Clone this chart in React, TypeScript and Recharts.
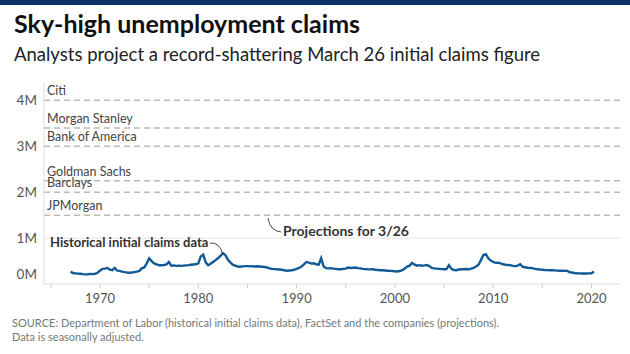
import { Line, LineChart, ReferenceLine, XAxis, YAxis } from "recharts";

// quarterly samples of weekly initial claims, thousands, starting 1967 Q1
const startYear = 1967;
const claimsK = [
  270, 240, 232, 225, 222, 215, 210, 212, 220, 215, 222, 245,
  290, 330, 335, 350, 315, 300, 350, 290, 285, 270, 258, 250,
  245, 250, 260, 270, 285, 340, 360, 450, 560, 500, 450, 430,
  410, 410, 415, 425, 480, 400, 405, 395, 400, 395, 400, 405,
  410, 420, 425, 430, 450, 600, 640, 470, 410, 440, 480, 520,
  560, 610, 670, 630, 530, 470, 420, 400, 380, 375, 385, 390,
  390, 385, 390, 380, 385, 380, 375, 370, 360, 340, 330, 325,
  320, 315, 310, 300, 290, 295, 300, 310, 330, 350, 380, 430,
  480, 465, 445, 450, 430, 420, 560, 380, 345, 340, 345, 335,
  330, 320, 322, 330, 335, 360, 350, 355, 360, 345, 340, 330,
  325, 320, 318, 320, 310, 305, 300, 298, 295, 290, 286, 282,
  275, 272, 282, 300, 335, 380, 400, 460, 420, 400, 410, 398,
  405, 415, 390, 350, 340, 335, 330, 325, 322, 325, 410, 330,
  305, 300, 315, 320, 320, 325, 320, 335, 350, 380, 420, 520,
  630, 650, 560, 510, 480, 460, 465, 450, 430, 420, 415, 410,
  395, 390, 400, 430, 375, 365, 355, 350, 345, 330, 322, 315,
  310, 305, 302, 300, 300, 296, 292, 290, 288, 285, 290, 260,
  250, 240, 235, 232, 230, 228, 230, 232, 235, 270,
];

const banks = ["Citi", "Morgan Stanley", "Bank of America", "Goldman Sachs", "Barclays", "JPMorgan"];
const projectionsM = [4, 3.4, 3, 2.25, 2, 1.5];

const yTicks = [0, 1, 2, 3, 4];
const xTicks = [1965, 1970, 1975, 1980, 1985, 1990, 1995, 2000, 2005, 2010, 2015, 2020];
const xLabels = [1970, 1980, 1990, 2000, 2010, 2020];

const data = claimsK.map((v, i) => ({ t: startYear + i / 4, v: v / 1000 }));

const FONT = "Lato, 'Noto Sans', sans-serif";

function YTick({ x, y, payload }: any) {
  const dy = payload.value === 0 ? -10 : 0;
  return (
    <text x={x + 1} y={y + dy} dy={5} textAnchor="end" fontSize={13.5} fill="#555" fontFamily={FONT}>
      {payload.value}M
    </text>
  );
}

function bankLabel(name: string) {
  return (props: any) => {
    const { viewBox } = props;
    return (
      <text x={viewBox.x + 3} y={viewBox.y - 5} fontSize={12.5} fill="#444" fontFamily={FONT}>
        {name}
      </text>
    );
  };
}

export default function App() {
  return (
    <div
      style={{
        position: "absolute",
        left: 0,
        top: 0,
        width: 630,
        height: 354,
        background: "#fff",
        overflow: "hidden",
        fontFamily: FONT,
      }}
    >
      <div style={{ position: "absolute", left: 0, top: 0, width: 630, height: 5, background: "#0b3068" }} />
      <div style={{ position: "absolute", left: 14, top: 8, fontSize: 25, fontWeight: 700, color: "#111", whiteSpace: "nowrap" }}>
        Sky-high unemployment claims
      </div>
      <div style={{ position: "absolute", left: 14, top: 43, fontSize: 18.5, color: "#222", whiteSpace: "nowrap" }}>
        Analysts project a record-shattering March 26 initial claims figure
      </div>

      <div style={{ position: "absolute", left: 0, top: 0 }}>
        <LineChart width={630} height={354} data={data} margin={{ top: 82, right: 10, bottom: 50, left: 0 }}>
          <XAxis
            dataKey="t"
            type="number"
            domain={[1964.3, 2022.9]}
            ticks={xTicks}
            tickFormatter={(v: number) => (xLabels.includes(v) ? String(v) : "")}
            height={20}
            tickSize={4}
            tickMargin={6}
            axisLine={{ stroke: "#ddd" }}
            tickLine={{ stroke: "#ccc" }}
            tick={{ fontSize: 13, fill: "#555", fontFamily: FONT }}
          />
          <YAxis
            type="number"
            domain={[0, 4.4]}
            ticks={yTicks}
            width={44}
            axisLine={{ stroke: "#ddd" }}
            tickLine={false}
            tick={<YTick />}
          />
          <ReferenceLine y={1} stroke="#e4e4e4" />
          {projectionsM.map((p, i) => (
            <ReferenceLine
              key={banks[i]}
              y={p}
              stroke="#bbb"
              strokeWidth={1.5}
              strokeDasharray="6 4"
              label={bankLabel(banks[i])}
            />
          ))}
          <Line
            dataKey="v"
            type="linear"
            stroke="#125996"
            strokeWidth={2.4}
            dot={false}
            isAnimationActive={false}
          />
        </LineChart>
      </div>

      <svg width={630} height={354} style={{ position: "absolute", left: 0, top: 0, pointerEvents: "none" }}>
        <text x={50} y={247} fontSize={13} fontWeight={700} fill="#333" fontFamily={FONT}>
          Historical initial claims data
        </text>
        <path d="M210,243 Q220,242 223,255" fill="none" stroke="#444" strokeWidth={1} />
        <text x={283} y={236} fontSize={14} fontWeight={700} fill="#333" fontFamily={FONT}>
          Projections for 3/26
        </text>
        <path d="M268,218 Q270,231 281,232" fill="none" stroke="#444" strokeWidth={1} />
      </svg>

      <div style={{ position: "absolute", left: 12, top: 316, fontSize: 11, lineHeight: "14px", color: "#777" }}>
        SOURCE: Department of Labor (historical initial claims data), FactSet and the companies (projections).
        <br />
        Data is seasonally adjusted.
      </div>
    </div>
  );
}
